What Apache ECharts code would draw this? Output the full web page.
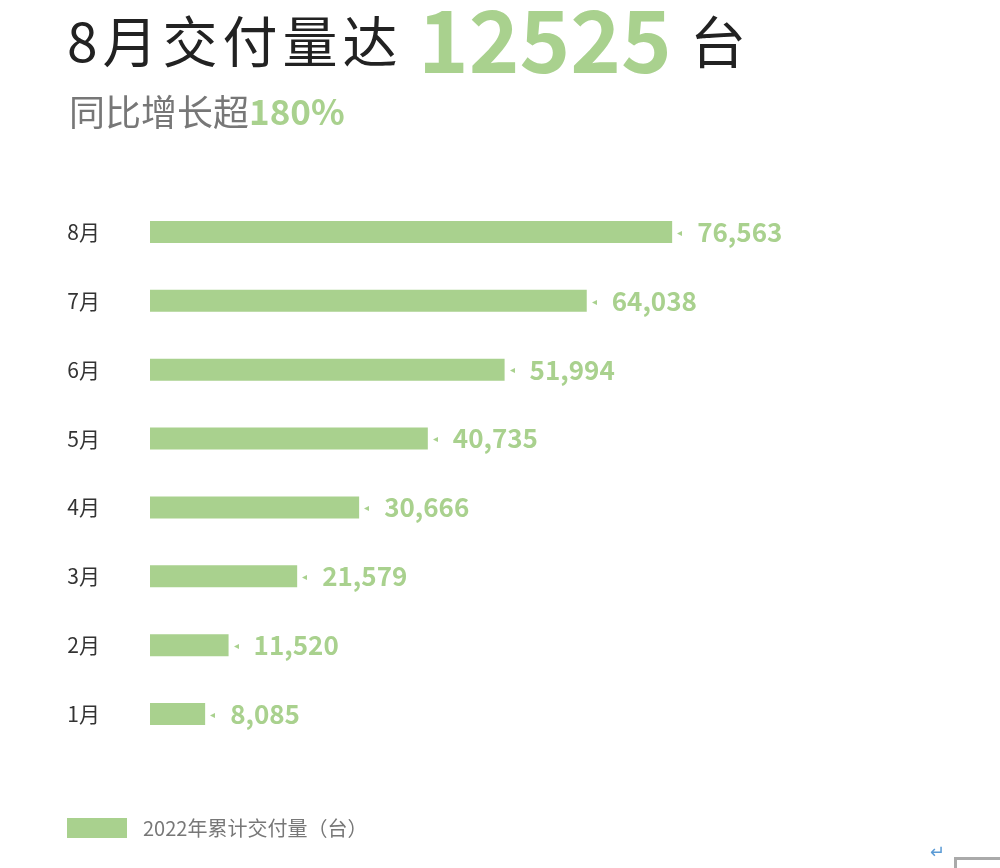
<!DOCTYPE html>
<html>
<head>
<meta charset="utf-8">
<script src="https://cdn.jsdelivr.net/npm/echarts@6/dist/echarts.min.js"></script>
<style>
html,body{margin:0;padding:0;background:#fff;}
#chart{width:1000px;height:868px;}
</style>
</head>
<body>
<div id="chart"></div>
<script>
const categories = ['1月','2月','3月','4月','5月','6月','7月','8月'];
const values = [8085, 11520, 21579, 30666, 40735, 51994, 64038, 76563];
const seriesName = '2022年累计交付量（台）';
const headline = { prefix: '8月交付量达', number: '12525', unit: '台' };
const subline = { prefix: '同比增长超', number: '180%' };

const GREEN = '#a9d18e';
const FONT = '"Noto Sans CJK SC", "Noto Sans", sans-serif';

function fmt(v){ return String(v).replace(/\B(?=(\d{3})+(?!\d))/g, ','); }

const prefixChars = headline.prefix.split('');
const prefixRich = prefixChars.map(function(c, i){ return '{' + (i < prefixChars.length - 1 ? 'a' : 'z') + '|' + c + '}'; }).join('');

const chart = echarts.init(document.getElementById('chart'));
chart.setOption({
  backgroundColor: '#fff',
  graphic: [
    { type: 'text', left: 67, top: 14, style: {
        text: prefixRich,
        rich: {
          a: { fontFamily: FONT, fontSize: 55, fill: '#222', lineHeight: 64, padding: [0, 5, 0, 0] },
          z: { fontFamily: FONT, fontSize: 55, fill: '#222', lineHeight: 64 }
        }
    }},
    { type: 'text', left: 418, top: -8, style: {
        text: headline.number,
        fontFamily: FONT, fontSize: 86, fontWeight: 'bold', fill: GREEN, lineHeight: 96
    }},
    { type: 'text', left: 690, top: 2, style: {
        text: headline.unit,
        fontFamily: FONT, fontSize: 56, fill: '#222', lineHeight: 80
    }},
    { type: 'text', left: 69, top: 94, style: {
        rich: {
          a: { fontFamily: FONT, fontSize: 36, fill: '#777', lineHeight: 46 },
          b: { fontFamily: FONT, fontSize: 35, fill: GREEN, fontWeight: 'bold', lineHeight: 46 }
        },
        text: '{a|' + subline.prefix + '}{b|' + subline.number + '}'
    }},
    { type: 'text', left: 930, top: 842, style: { text: '↵', fontSize: 18, fill: '#5b9bd5', fontFamily: FONT } },
    { type: 'polyline', shape: { points: [[955.5, 868], [955.5, 858.5], [1000, 858.5]] }, style: { stroke: '#aaa', lineWidth: 3, fill: null } }
  ],
  legend: {
    left: 67, top: 818, padding: 0,
    itemWidth: 60, itemHeight: 20,
    icon: 'rect',
    textStyle: { fontFamily: FONT, fontSize: 20, color: '#777', padding:[0,0,0,11] },
    data: [seriesName]
  },
  grid: { left: 150, right: 168, top: 197.5, bottom: 119.5, containLabel: false },
  xAxis: {
    type: 'value', min: 0, max: 100000,
    show: false
  },
  yAxis: {
    type: 'category',
    data: categories,
    axisLine: { show: false },
    axisTick: { show: false },
    axisLabel: { margin: 50, fontFamily: FONT, fontSize: 21, color: '#333' }
  },
  series: [{
    name: seriesName,
    type: 'bar',
    data: values,
    barWidth: 22,
    itemStyle: { color: GREEN },
    label: {
      show: true,
      position: 'right',
      distance: 5,
      formatter: function(p){ return '{s|◂}{g|}{v|' + fmt(p.value) + '}'; },
      rich: {
        s: { fontSize: 10, color: GREEN, fontFamily: FONT },
        g: { width: 15 },
        v: { fontSize: 26, color: GREEN, fontWeight: 'bold', fontFamily: FONT }
      }
    }
  }]
});
</script>
</body>
</html>
